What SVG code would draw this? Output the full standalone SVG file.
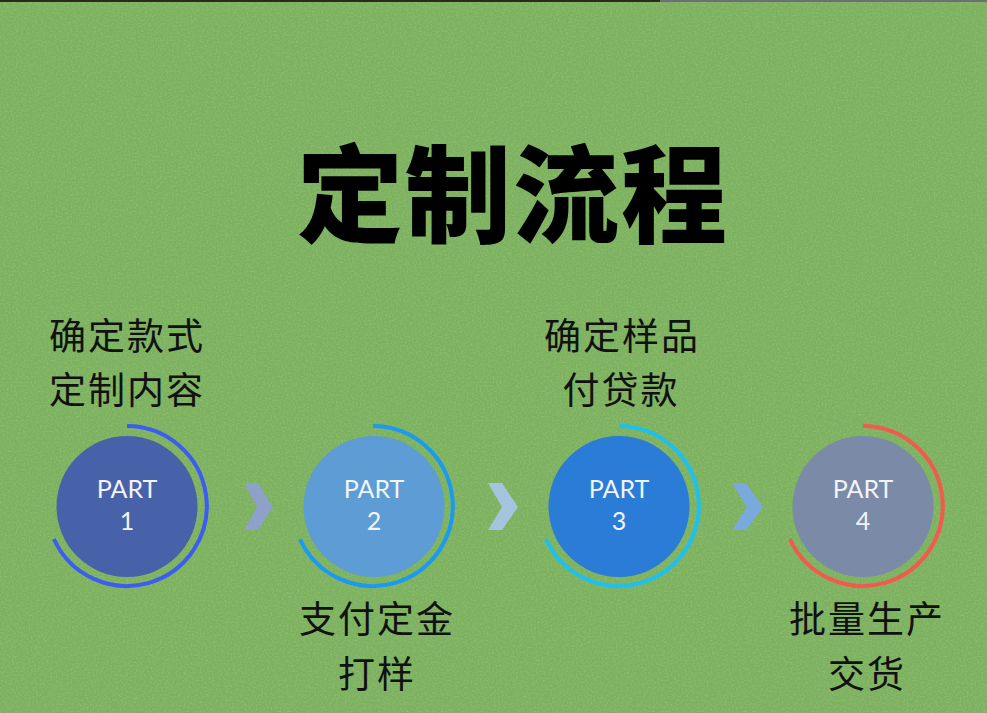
<svg xmlns="http://www.w3.org/2000/svg" width="987" height="713" viewBox="0 0 987 713">
<defs>
<filter id="grain" x="0" y="0" width="100%" height="100%">
<feTurbulence type="fractalNoise" baseFrequency="0.55" numOctaves="2" seed="7" result="n"/>
<feColorMatrix in="n" type="matrix" values="0 0 0 0 0.75  0 0 0 0 0.9  0 0 0 0 0.45  0 0 0 1.1 -0.45"/>
</filter>
<style>
.title{font-family:"Noto Sans CJK SC","Noto Sans",sans-serif;font-weight:900;font-size:106px;fill:#000;text-anchor:middle;letter-spacing:2px}
.lbl{font-family:"Noto Sans CJK SC","Noto Sans",sans-serif;font-weight:400;font-size:37px;fill:#111;text-anchor:middle;letter-spacing:2px}
.part{font-family:Lato,"Open Sans",sans-serif;font-size:25px;fill:#f2f4f8;text-anchor:middle}
.ring{fill:none;stroke-width:4}
</style>
</defs>
<rect width="987" height="713" fill="#7cb160"/>
<rect width="987" height="713" filter="url(#grain)" opacity="0.35"/>
<rect x="0" y="0" width="660" height="2" fill="#2a2a1a"/>
<rect x="660" y="0" width="327" height="2" fill="#6e6e78"/>

<text class="title" x="513" y="234">定制流程</text>

<g id="connectors">
<polygon points="244,483 258,483 273,507 258,530 244,530 257,507" fill="#8f9ddc" opacity="0.85"/>
<polygon points="488,483 502,483 518,507 502,530 488,530 502,507" fill="#a9c5ea" opacity="0.9"/>
<polygon points="732,483 746,483 763,507 746,530 732,530 747,507" fill="#79a8ea" opacity="0.9"/>
</g>

<g id="step1">
<text class="lbl" x="127" y="350">确定款式</text>
<text class="lbl" x="127" y="404">定制内容</text>
<path class="ring" stroke="#3d5cf2" d="M127,426 A80,80 0 1 1 53.9,539"/>
<circle cx="127" cy="506.5" r="70.5" fill="#4862a9"/>
<text class="part" x="127" y="498">PART</text>
<text class="part" x="127" y="530">1</text>
</g>

<g id="step2">
<path class="ring" stroke="#1a9af2" d="M373,426 A80,80 0 1 1 299.9,539"/>
<circle cx="374" cy="506.5" r="70.5" fill="#5d9cd4"/>
<text class="part" x="374" y="498">PART</text>
<text class="part" x="374" y="530">2</text>
<text class="lbl" x="377" y="633">支付定金</text>
<text class="lbl" x="377" y="688">打样</text>
</g>

<g id="step3">
<text class="lbl" x="622" y="350">确定样品</text>
<text class="lbl" x="621" y="404">付贷款</text>
<path class="ring" stroke="#1ec0f2" d="M619,426 A80,80 0 1 1 545.9,539"/>
<circle cx="619" cy="506.5" r="70.5" fill="#2a7cd6"/>
<text class="part" x="619" y="498">PART</text>
<text class="part" x="619" y="530">3</text>
</g>

<g id="step4">
<path class="ring" stroke="#f25a4c" d="M863,426 A80,80 0 1 1 789.9,539"/>
<circle cx="863" cy="506.5" r="70.5" fill="#7a8aa7"/>
<text class="part" x="863" y="498">PART</text>
<text class="part" x="863" y="530">4</text>
<text class="lbl" x="867" y="633">批量生产</text>
<text class="lbl" x="867" y="688">交货</text>
</g>
</svg>
